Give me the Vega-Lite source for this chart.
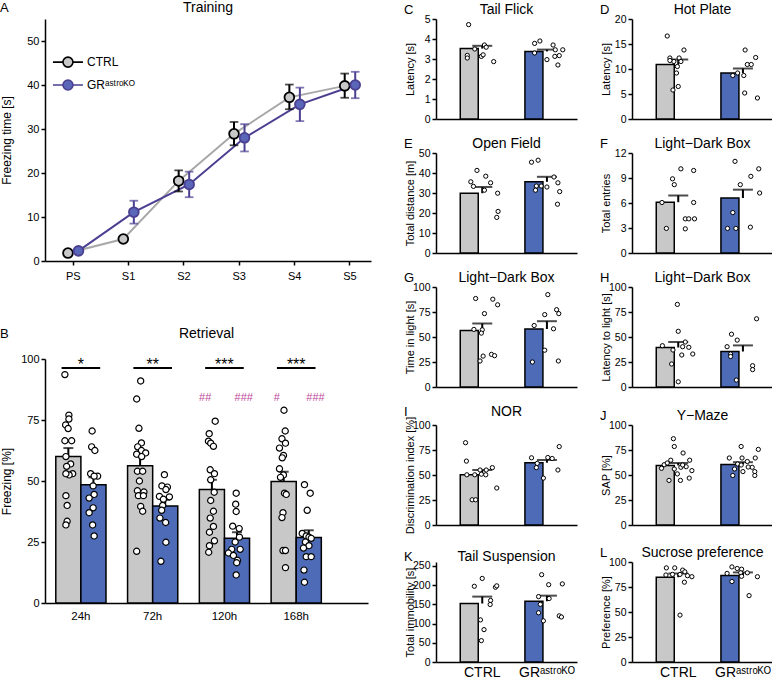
{
"$schema":"https://vega.github.io/schema/vega-lite/v6.json",
"background":"white",
"padding":{"left":0,"top":1,"right":0,"bottom":0},
"config":{
 "font":"Liberation Sans",
 "view":{"stroke":null},
 "axis":{"domainColor":"black","domainWidth":1.5,"tickColor":"black","tickWidth":1.5,"tickSize":4,"labelColor":"black","titleColor":"black","labelFont":"Liberation Sans","titleFont":"Liberation Sans","titleFontWeight":"normal","grid":false,"labelPadding":2},
 "axisY":{"labelFontSize":10.5,"titleFontSize":11,"titleX":-21,"labelOverlap":false,"tickCount":10},
 "title":{"font":"Liberation Sans","fontSize":14,"fontWeight":"normal","color":"black","offset":-3}
},
"datasets":{
 "trainA":[
  {"s":"PS","g":"CTRL","m":1.8,"lo":1.5,"hi":2.1},{"s":"S1","g":"CTRL","m":5.0,"lo":4.7,"hi":5.3},{"s":"S2","g":"CTRL","m":18.2,"lo":15.8,"hi":20.6},{"s":"S3","g":"CTRL","m":28.9,"lo":26.3,"hi":31.6},{"s":"S4","g":"CTRL","m":37.2,"lo":34.5,"hi":40.1},{"s":"S5","g":"CTRL","m":39.8,"lo":37.1,"hi":42.6},
  {"s":"PS","g":"GR","m":2.3,"lo":2.0,"hi":2.6},{"s":"S1","g":"GR","m":11.1,"lo":8.5,"hi":13.7},{"s":"S2","g":"GR","m":17.4,"lo":14.5,"hi":20.3},{"s":"S3","g":"GR","m":28.0,"lo":24.9,"hi":31.1},{"s":"S4","g":"GR","m":35.6,"lo":31.8,"hi":39.4},{"s":"S5","g":"GR","m":40.0,"lo":37.0,"hi":43.0}],
 "legA":[{"s":"PS","g":"CTRL","lab":"CTRL","k":"c"},{"s":"PS","g":"CTRL","lab":"GRᵃˢᵗʳᵒᴷᴼ","k":"g"}],
 "sumB":[{"t":"24h","g":"CTRL","m":60,"e":63.5},{"t":"24h","g":"GR","m":48.5,"e":51.5},{"t":"72h","g":"CTRL","m":56.2,"e":60},{"t":"72h","g":"GR","m":39.8,"e":42.3},{"t":"120h","g":"CTRL","m":46.5,"e":50.5},{"t":"120h","g":"GR","m":26.5,"e":29},{"t":"168h","g":"CTRL","m":49.8,"e":53.8},{"t":"168h","g":"GR","m":26.8,"e":29.8}],
 "sigB":[{"t":"24h","s":"*"},{"t":"72h","s":"**"},{"t":"120h","s":"***"},{"t":"168h","s":"***"}],
 "hashB":[{"t":"120h","g":"CTRL","s":"##"},{"t":"120h","g":"GR","s":"###"},{"t":"168h","g":"CTRL","s":"#"},{"t":"168h","g":"GR","s":"###"}],
 "dotsB":[
  {"t":"24h","g":"CTRL","v":93.6,"j":-0.64},{"t":"24h","g":"CTRL","v":77,"j":-0.48},{"t":"24h","g":"CTRL","v":75.4,"j":-0.48},{"t":"24h","g":"CTRL","v":73,"j":-0.61},{"t":"24h","g":"CTRL","v":71.5,"j":-0.51},{"t":"24h","g":"CTRL","v":66.5,"j":-0.64},{"t":"24h","g":"CTRL","v":66.5,"j":-0.37},{"t":"24h","g":"CTRL","v":60,"j":-0.6},{"t":"24h","g":"CTRL","v":57,"j":-0.41},{"t":"24h","g":"CTRL","v":56,"j":-0.57},{"t":"24h","g":"CTRL","v":53,"j":-0.33},{"t":"24h","g":"CTRL","v":52.5,"j":-0.47},{"t":"24h","g":"CTRL","v":53,"j":-0.6},{"t":"24h","g":"CTRL","v":44,"j":-0.6},{"t":"24h","g":"CTRL","v":40,"j":-0.55},{"t":"24h","g":"CTRL","v":33.5,"j":-0.55},{"t":"24h","g":"CTRL","v":32,"j":-0.6},
  {"t":"24h","g":"GR","v":70.5,"j":0.45},{"t":"24h","g":"GR","v":64,"j":0.43},{"t":"24h","g":"GR","v":62.5,"j":0.56},{"t":"24h","g":"GR","v":53,"j":0.39},{"t":"24h","g":"GR","v":52,"j":0.67},{"t":"24h","g":"GR","v":52,"j":0.53},{"t":"24h","g":"GR","v":48,"j":0.49},{"t":"24h","g":"GR","v":44.5,"j":0.53},{"t":"24h","g":"GR","v":43,"j":0.33},{"t":"24h","g":"GR","v":39,"j":0.49},{"t":"24h","g":"GR","v":37,"j":0.33},{"t":"24h","g":"GR","v":32,"j":0.47},{"t":"24h","g":"GR","v":27.5,"j":0.53},
  {"t":"72h","g":"CTRL","v":91,"j":-0.48},{"t":"72h","g":"CTRL","v":83.6,"j":-0.64},{"t":"72h","g":"CTRL","v":71.6,"j":-0.55},{"t":"72h","g":"CTRL","v":65.6,"j":-0.45},{"t":"72h","g":"CTRL","v":64,"j":-0.6},{"t":"72h","g":"CTRL","v":62.5,"j":-0.45},{"t":"72h","g":"CTRL","v":61.5,"j":-0.28},{"t":"72h","g":"CTRL","v":61,"j":-0.64},{"t":"72h","g":"CTRL","v":60,"j":-0.44},{"t":"72h","g":"CTRL","v":54,"j":-0.61},{"t":"72h","g":"CTRL","v":54,"j":-0.4},{"t":"72h","g":"CTRL","v":50,"j":-0.53},{"t":"72h","g":"CTRL","v":46,"j":-0.61},{"t":"72h","g":"CTRL","v":45.5,"j":-0.35},{"t":"72h","g":"CTRL","v":44,"j":-0.57},{"t":"72h","g":"CTRL","v":44,"j":-0.37},{"t":"72h","g":"CTRL","v":39.6,"j":-0.48},{"t":"72h","g":"CTRL","v":37.6,"j":-0.4},{"t":"72h","g":"CTRL","v":21.2,"j":-0.64},
  {"t":"72h","g":"GR","v":52.6,"j":0.47},{"t":"72h","g":"GR","v":48,"j":0.37},{"t":"72h","g":"GR","v":47.5,"j":0.59},{"t":"72h","g":"GR","v":46.5,"j":0.53},{"t":"72h","g":"GR","v":43.7,"j":0.27},{"t":"72h","g":"GR","v":43.5,"j":0.67},{"t":"72h","g":"GR","v":42.5,"j":0.43},{"t":"72h","g":"GR","v":40,"j":0.4},{"t":"72h","g":"GR","v":38,"j":0.36},{"t":"72h","g":"GR","v":34.8,"j":0.29},{"t":"72h","g":"GR","v":33,"j":0.52},{"t":"72h","g":"GR","v":24.9,"j":0.53},{"t":"72h","g":"GR","v":17.1,"j":0.33},
  {"t":"120h","g":"CTRL","v":74.5,"j":-0.37},{"t":"120h","g":"CTRL","v":69.4,"j":-0.61},{"t":"120h","g":"CTRL","v":66.3,"j":-0.64},{"t":"120h","g":"CTRL","v":65.5,"j":-0.55},{"t":"120h","g":"CTRL","v":64.2,"j":-0.44},{"t":"120h","g":"CTRL","v":54.6,"j":-0.57},{"t":"120h","g":"CTRL","v":53,"j":-0.4},{"t":"120h","g":"CTRL","v":50.5,"j":-0.55},{"t":"120h","g":"CTRL","v":45.4,"j":-0.41},{"t":"120h","g":"CTRL","v":42,"j":-0.55},{"t":"120h","g":"CTRL","v":37.6,"j":-0.44},{"t":"120h","g":"CTRL","v":34.8,"j":-0.57},{"t":"120h","g":"CTRL","v":31.4,"j":-0.44},{"t":"120h","g":"CTRL","v":29,"j":-0.6},{"t":"120h","g":"CTRL","v":25.5,"j":-0.4},{"t":"120h","g":"CTRL","v":23.5,"j":-0.6},{"t":"120h","g":"CTRL","v":20.8,"j":-0.63},
  {"t":"120h","g":"GR","v":45,"j":0.47},{"t":"120h","g":"GR","v":40.5,"j":0.45},{"t":"120h","g":"GR","v":37.5,"j":0.47},{"t":"120h","g":"GR","v":31.5,"j":0.33},{"t":"120h","g":"GR","v":30.5,"j":0.59},{"t":"120h","g":"GR","v":27,"j":0.6},{"t":"120h","g":"GR","v":25,"j":0.43},{"t":"120h","g":"GR","v":22,"j":0.29},{"t":"120h","g":"GR","v":22,"j":0.63},{"t":"120h","g":"GR","v":20.5,"j":0.16},{"t":"120h","g":"GR","v":19.5,"j":0.36},{"t":"120h","g":"GR","v":17.5,"j":0.52},{"t":"120h","g":"GR","v":16.5,"j":0.49},{"t":"120h","g":"GR","v":11.5,"j":0.47},
  {"t":"168h","g":"CTRL","v":79,"j":-0.49},{"t":"168h","g":"CTRL","v":70.5,"j":-0.44},{"t":"168h","g":"CTRL","v":67.3,"j":-0.57},{"t":"168h","g":"CTRL","v":65.5,"j":-0.43},{"t":"168h","g":"CTRL","v":63.5,"j":-0.67},{"t":"168h","g":"CTRL","v":60.5,"j":-0.51},{"t":"168h","g":"CTRL","v":59.5,"j":-0.56},{"t":"168h","g":"CTRL","v":55,"j":-0.67},{"t":"168h","g":"CTRL","v":52.5,"j":-0.51},{"t":"168h","g":"CTRL","v":51.5,"j":-0.63},{"t":"168h","g":"CTRL","v":45,"j":-0.47},{"t":"168h","g":"CTRL","v":44.5,"j":-0.4},{"t":"168h","g":"CTRL","v":37,"j":-0.53},{"t":"168h","g":"CTRL","v":35,"j":-0.57},{"t":"168h","g":"CTRL","v":21.5,"j":-0.53},{"t":"168h","g":"CTRL","v":21.5,"j":-0.43},{"t":"168h","g":"CTRL","v":14.5,"j":-0.43},
  {"t":"168h","g":"GR","v":48.5,"j":0.33},{"t":"168h","g":"GR","v":45,"j":0.56},{"t":"168h","g":"GR","v":38,"j":0.44},{"t":"168h","g":"GR","v":28.5,"j":0.24},{"t":"168h","g":"GR","v":27.5,"j":0.4},{"t":"168h","g":"GR","v":27,"j":0.51},{"t":"168h","g":"GR","v":26.5,"j":0.6},{"t":"168h","g":"GR","v":25,"j":0.37},{"t":"168h","g":"GR","v":23.5,"j":0.51},{"t":"168h","g":"GR","v":22.5,"j":0.29},{"t":"168h","g":"GR","v":19,"j":0.4},{"t":"168h","g":"GR","v":19,"j":0.6},{"t":"168h","g":"GR","v":13.5,"j":0.31},{"t":"168h","g":"GR","v":8.5,"j":0.33}],
 "sum":[
  {"p":"C","g":"CTRL","m":3.52,"e":3.66},{"p":"C","g":"GR","m":3.38,"e":3.47},
  {"p":"D","g":"CTRL","m":10.9,"e":11.9},{"p":"D","g":"GR","m":9.2,"e":10.1},
  {"p":"E","g":"CTRL","m":29.9,"e":33.0},{"p":"E","g":"GR","m":35.6,"e":38.1},
  {"p":"F","g":"CTRL","m":6.1,"e":6.9},{"p":"F","g":"GR","m":6.6,"e":7.6},
  {"p":"G","g":"CTRL","m":56.5,"e":63.5},{"p":"G","g":"GR","m":58.0,"e":65.8},
  {"p":"H","g":"CTRL","m":39.5,"e":45.0},{"p":"H","g":"GR","m":35.5,"e":41.6},
  {"p":"I","g":"CTRL","m":50.2,"e":55.0},{"p":"I","g":"GR","m":62.3,"e":65.0},
  {"p":"J","g":"CTRL","m":59.5,"e":62.0},{"p":"J","g":"GR","m":60.6,"e":62.8},
  {"p":"K","g":"CTRL","m":152,"e":170},{"p":"K","g":"GR","m":158,"e":172.5},
  {"p":"L","g":"CTRL","m":84.8,"e":88.5},{"p":"L","g":"GR","m":86.5,"e":89.6}],
 "pts":[
  {"p":"C","g":"CTRL","v":4.72,"j":-0.31},{"p":"C","g":"CTRL","v":3.5,"j":-0.17},{"p":"C","g":"CTRL","v":3.7,"j":0.05},{"p":"C","g":"CTRL","v":3.59,"j":0.09},{"p":"C","g":"CTRL","v":3.18,"j":-0.34},{"p":"C","g":"CTRL","v":3.05,"j":-0.34},{"p":"C","g":"CTRL","v":3.13,"j":-0.02},{"p":"C","g":"CTRL","v":3.21,"j":0.02},{"p":"C","g":"CTRL","v":2.87,"j":0.26},
  {"p":"C","g":"GR","v":3.78,"j":-0.28},{"p":"C","g":"GR","v":3.9,"j":-0.16},{"p":"C","g":"GR","v":3.3,"j":-0.28},{"p":"C","g":"GR","v":3.7,"j":0.14},{"p":"C","g":"GR","v":3.46,"j":0.19},{"p":"C","g":"GR","v":3.46,"j":0.36},{"p":"C","g":"GR","v":2.97,"j":0},{"p":"C","g":"GR","v":3.13,"j":0.18},{"p":"C","g":"GR","v":3.17,"j":0.28},{"p":"C","g":"GR","v":2.7,"j":0.25},
  {"p":"D","g":"CTRL","v":16.6,"j":-0.25},{"p":"D","g":"CTRL","v":13.8,"j":0.13},{"p":"D","g":"CTRL","v":12.2,"j":-0.19},{"p":"D","g":"CTRL","v":12.2,"j":0.02},{"p":"D","g":"CTRL","v":11.5,"j":-0.1},{"p":"D","g":"CTRL","v":11.5,"j":0.06},{"p":"D","g":"CTRL","v":10.5,"j":-0.02},{"p":"D","g":"CTRL","v":9.2,"j":-0.04},{"p":"D","g":"CTRL","v":6.5,"j":0},{"p":"D","g":"CTRL","v":5.8,"j":-0.12},{"p":"D","g":"CTRL","v":11.7,"j":-0.19},
  {"p":"D","g":"GR","v":13.8,"j":0.05},{"p":"D","g":"GR","v":12.3,"j":0.29},{"p":"D","g":"GR","v":10.9,"j":0.1},{"p":"D","g":"GR","v":10.9,"j":0.19},{"p":"D","g":"GR","v":9.2,"j":-0.12},{"p":"D","g":"GR","v":8.7,"j":-0.23},{"p":"D","g":"GR","v":8.7,"j":0.02},{"p":"D","g":"GR","v":5.2,"j":0.04},{"p":"D","g":"GR","v":4.2,"j":0.33},
  {"p":"E","g":"CTRL","v":41.3,"j":-0.12},{"p":"E","g":"CTRL","v":35.6,"j":-0.26},{"p":"E","g":"CTRL","v":38.4,"j":0.08},{"p":"E","g":"CTRL","v":33.3,"j":-0.2},{"p":"E","g":"CTRL","v":35.1,"j":0.19},{"p":"E","g":"CTRL","v":31.4,"j":0.05},{"p":"E","g":"CTRL","v":29.9,"j":0.35},{"p":"E","g":"CTRL","v":20.8,"j":0.36},{"p":"E","g":"CTRL","v":17.8,"j":0.33},
  {"p":"E","g":"GR","v":45.4,"j":-0.35},{"p":"E","g":"GR","v":46.4,"j":-0.2},{"p":"E","g":"GR","v":38,"j":0.16},{"p":"E","g":"GR","v":33.5,"j":-0.24},{"p":"E","g":"GR","v":33.5,"j":-0.13},{"p":"E","g":"GR","v":33,"j":0},{"p":"E","g":"GR","v":35.1,"j":0.25},{"p":"E","g":"GR","v":30.7,"j":0.29},{"p":"E","g":"GR","v":31.4,"j":-0.26},{"p":"E","g":"GR","v":24.4,"j":0.24},
  {"p":"F","g":"CTRL","v":10.1,"j":0.06},{"p":"F","g":"CTRL","v":9.9,"j":0.35},{"p":"F","g":"CTRL","v":8.9,"j":-0.13},{"p":"F","g":"CTRL","v":8.2,"j":-0.09},{"p":"F","g":"CTRL","v":6.06,"j":-0.37},{"p":"F","g":"CTRL","v":6.06,"j":0.35},{"p":"F","g":"CTRL","v":2.95,"j":-0.27},{"p":"F","g":"CTRL","v":4.1,"j":0.16},{"p":"F","g":"CTRL","v":4.1,"j":0.24},{"p":"F","g":"CTRL","v":4.1,"j":0.37},{"p":"F","g":"CTRL","v":2.9,"j":0.16},
  {"p":"F","g":"GR","v":11,"j":-0.18},{"p":"F","g":"GR","v":10.1,"j":0.36},{"p":"F","g":"GR","v":9.2,"j":0.18},{"p":"F","g":"GR","v":8.2,"j":-0.06},{"p":"F","g":"GR","v":7.2,"j":0.38},{"p":"F","g":"GR","v":4.85,"j":-0.23},{"p":"F","g":"GR","v":2.95,"j":-0.35},{"p":"F","g":"GR","v":2.95,"j":-0.16},{"p":"F","g":"GR","v":3.1,"j":0.17},
  {"p":"G","g":"CTRL","v":88.5,"j":-0.15},{"p":"G","g":"CTRL","v":87.8,"j":0.24},{"p":"G","g":"CTRL","v":82.2,"j":0.35},{"p":"G","g":"CTRL","v":73.4,"j":0.05},{"p":"G","g":"CTRL","v":57.6,"j":-0.19},{"p":"G","g":"CTRL","v":57.2,"j":0},{"p":"G","g":"CTRL","v":53.9,"j":-0.02},{"p":"G","g":"CTRL","v":32.6,"j":0.21},{"p":"G","g":"CTRL","v":31.3,"j":0.28},{"p":"G","g":"CTRL","v":30.9,"j":0.02},{"p":"G","g":"CTRL","v":26,"j":-0.05},
  {"p":"G","g":"GR","v":92.4,"j":0.02},{"p":"G","g":"GR","v":77.3,"j":0.22},{"p":"G","g":"GR","v":73.4,"j":0.27},{"p":"G","g":"GR","v":72.4,"j":-0.05},{"p":"G","g":"GR","v":61.5,"j":-0.29},{"p":"G","g":"GR","v":58.2,"j":0.15},{"p":"G","g":"GR","v":36.8,"j":-0.05},{"p":"G","g":"GR","v":25,"j":-0.33},{"p":"G","g":"GR","v":26,"j":0.26},
  {"p":"H","g":"CTRL","v":82.6,"j":-0.02},{"p":"H","g":"CTRL","v":55.7,"j":0},{"p":"H","g":"CTRL","v":45,"j":0.16},{"p":"H","g":"CTRL","v":41.3,"j":-0.36},{"p":"H","g":"CTRL","v":40.3,"j":0.1},{"p":"H","g":"CTRL","v":37,"j":-0.12},{"p":"H","g":"CTRL","v":39.7,"j":0.24},{"p":"H","g":"CTRL","v":33,"j":0.33},{"p":"H","g":"CTRL","v":32,"j":0.08},{"p":"H","g":"CTRL","v":23,"j":-0.15},{"p":"H","g":"CTRL","v":5.2,"j":0},
  {"p":"H","g":"GR","v":68.2,"j":0.31},{"p":"H","g":"GR","v":52.8,"j":-0.26},{"p":"H","g":"GR","v":46.9,"j":-0.13},{"p":"H","g":"GR","v":40.3,"j":-0.36},{"p":"H","g":"GR","v":33,"j":-0.28},{"p":"H","g":"GR","v":30.5,"j":-0.28},{"p":"H","g":"GR","v":21.3,"j":0.22},{"p":"H","g":"GR","v":17.4,"j":0.22},{"p":"H","g":"GR","v":6.9,"j":-0.15},
  {"p":"I","g":"CTRL","v":82.3,"j":-0.38},{"p":"I","g":"CTRL","v":63.9,"j":-0.36},{"p":"I","g":"CTRL","v":55,"j":-0.05},{"p":"I","g":"CTRL","v":55,"j":0.09},{"p":"I","g":"CTRL","v":57.4,"j":0.23},{"p":"I","g":"CTRL","v":50.2,"j":-0.35},{"p":"I","g":"CTRL","v":50.2,"j":-0.17},{"p":"I","g":"CTRL","v":50.8,"j":-0.02},{"p":"I","g":"CTRL","v":50.2,"j":0.08},{"p":"I","g":"CTRL","v":37,"j":0.33},{"p":"I","g":"CTRL","v":25.2,"j":-0.23},{"p":"I","g":"CTRL","v":25.2,"j":-0.15},
  {"p":"I","g":"GR","v":78.4,"j":0.28},{"p":"I","g":"GR","v":67.2,"j":-0.35},{"p":"I","g":"GR","v":67.5,"j":0.02},{"p":"I","g":"GR","v":66.5,"j":0.12},{"p":"I","g":"GR","v":61.6,"j":-0.22},{"p":"I","g":"GR","v":57.4,"j":-0.24},{"p":"I","g":"GR","v":55,"j":0.25},{"p":"I","g":"GR","v":46.9,"j":-0.08},
  {"p":"J","g":"CTRL","v":86.3,"j":-0.11},{"p":"J","g":"CTRL","v":78.5,"j":-0.09},{"p":"J","g":"CTRL","v":72,"j":0.11},{"p":"J","g":"CTRL","v":64.8,"j":-0.17},{"p":"J","g":"CTRL","v":64.8,"j":0.26},{"p":"J","g":"CTRL","v":60.3,"j":-0.32},{"p":"J","g":"CTRL","v":56,"j":-0.09},{"p":"J","g":"CTRL","v":57.7,"j":0.06},{"p":"J","g":"CTRL","v":58.3,"j":0.18},{"p":"J","g":"CTRL","v":54.4,"j":0.31},{"p":"J","g":"CTRL","v":56.7,"j":-0.38},{"p":"J","g":"CTRL","v":51.1,"j":-0.02},{"p":"J","g":"CTRL","v":46.9,"j":0.25},{"p":"J","g":"CTRL","v":44.6,"j":-0.21},{"p":"J","g":"CTRL","v":44.6,"j":0.05},{"p":"J","g":"CTRL","v":60,"j":0.1},{"p":"J","g":"CTRL","v":62,"j":-0.25},
  {"p":"J","g":"GR","v":78.5,"j":-0.04},{"p":"J","g":"GR","v":75.6,"j":0.35},{"p":"J","g":"GR","v":67,"j":-0.31},{"p":"J","g":"GR","v":67,"j":-0.02},{"p":"J","g":"GR","v":67,"j":0.28},{"p":"J","g":"GR","v":63.5,"j":0.1},{"p":"J","g":"GR","v":61,"j":-0.12},{"p":"J","g":"GR","v":57.7,"j":0.21},{"p":"J","g":"GR","v":56,"j":-0.19},{"p":"J","g":"GR","v":53.4,"j":0},{"p":"J","g":"GR","v":53.4,"j":0.27},{"p":"J","g":"GR","v":49.5,"j":-0.23},{"p":"J","g":"GR","v":49.5,"j":0.27},{"p":"J","g":"GR","v":60,"j":-0.04},{"p":"J","g":"GR","v":58,"j":0.12},
  {"p":"K","g":"CTRL","v":217.3,"j":0},{"p":"K","g":"CTRL","v":196.9,"j":-0.18},{"p":"K","g":"CTRL","v":194.4,"j":0.3},{"p":"K","g":"CTRL","v":198,"j":0.33},{"p":"K","g":"CTRL","v":160,"j":0.19},{"p":"K","g":"CTRL","v":149.5,"j":0.18},{"p":"K","g":"CTRL","v":109.5,"j":-0.04},{"p":"K","g":"CTRL","v":84.2,"j":0.04},{"p":"K","g":"CTRL","v":55.6,"j":-0.02},
  {"p":"K","g":"GR","v":227,"j":-0.12},{"p":"K","g":"GR","v":201,"j":0.04},{"p":"K","g":"GR","v":203,"j":0.35},{"p":"K","g":"GR","v":170,"j":-0.19},{"p":"K","g":"GR","v":165,"j":0.05},{"p":"K","g":"GR","v":150,"j":-0.15},{"p":"K","g":"GR","v":128,"j":-0.19},{"p":"K","g":"GR","v":120,"j":0.28},{"p":"K","g":"GR","v":117,"j":0.33},{"p":"K","g":"GR","v":107,"j":-0.08},
  {"p":"L","g":"CTRL","v":94.1,"j":-0.27},{"p":"L","g":"CTRL","v":94.1,"j":-0.08},{"p":"L","g":"CTRL","v":91.9,"j":0.1},{"p":"L","g":"CTRL","v":90.2,"j":0.15},{"p":"L","g":"CTRL","v":87,"j":-0.28},{"p":"L","g":"CTRL","v":87.6,"j":-0.13},{"p":"L","g":"CTRL","v":87.6,"j":0.04},{"p":"L","g":"CTRL","v":86.3,"j":0.21},{"p":"L","g":"CTRL","v":85.3,"j":0.31},{"p":"L","g":"CTRL","v":79.8,"j":0.14},{"p":"L","g":"CTRL","v":46.9,"j":0.04},
  {"p":"L","g":"GR","v":95.1,"j":-0.25},{"p":"L","g":"GR","v":93.5,"j":-0.13},{"p":"L","g":"GR","v":92.8,"j":-0.03},{"p":"L","g":"GR","v":89.2,"j":-0.05},{"p":"L","g":"GR","v":89.2,"j":0.1},{"p":"L","g":"GR","v":88.6,"j":-0.36},{"p":"L","g":"GR","v":85.7,"j":-0.03},{"p":"L","g":"GR","v":85.3,"j":0.33},{"p":"L","g":"GR","v":80.5,"j":-0.25},{"p":"L","g":"GR","v":66.4,"j":0.14}]
},
"spacing":32,
"resolve":{"scale":{"color":"independent"}},
"hconcat":[
 {"spacing":46,
  "resolve":{"scale":{"color":"independent"}},
  "vconcat":[
  {"title":{"text":"A","anchor":"start","frame":"bounds","offset":-14,"fontSize":13},
   "vconcat":[{"width":326,"height":242,"title":{"text":"Training","offset":4},
    "layer":[
     {"data":{"name":"trainA"},"mark":{"type":"line","strokeWidth":2},"encoding":{
       "x":{"field":"s","type":"nominal","scale":{"domain":["PS","S1","S2","S3","S4","S5"],"paddingInner":0.24,"paddingOuter":0.065,"align":1},"axis":{"title":null,"labelAngle":0,"labelFontSize":11,"labelPadding":5,"tickSize":4}},
       "xOffset":{"field":"g","type":"nominal","scale":{"domain":["CTRL","GR"],"paddingInner":0,"paddingOuter":1.6}},
       "y":{"field":"m","type":"quantitative","scale":{"domain":[0,55]},"axis":{"title":"Freezing time [s]","values":[0,10,20,30,40,50],"labelFontSize":11,"titleFontSize":12,"titleX":-32,"format":"d"}},
       "color":{"field":"g","type":"nominal","scale":{"domain":["CTRL","GR"],"range":["#a8a8a8","#4a3f91"]},"legend":null}}},
     {"data":{"name":"trainA"},"mark":{"type":"rule","strokeWidth":2},"encoding":{"x":{"field":"s","type":"nominal"},"xOffset":{"field":"g","type":"nominal"},"y":{"field":"lo","type":"quantitative"},"y2":{"field":"hi"},"stroke":{"condition":{"test":"datum.g == 'CTRL'","value":"black"},"value":"#4a3f91"}}},
     {"data":{"name":"trainA"},"mark":{"type":"tick","filled":false,"thickness":0.2,"size":7,"strokeWidth":1.6},"encoding":{"x":{"field":"s","type":"nominal"},"xOffset":{"field":"g","type":"nominal"},"y":{"field":"lo","type":"quantitative"},"stroke":{"condition":{"test":"datum.g == 'CTRL'","value":"black"},"value":"#4a3f91"}}},
     {"data":{"name":"trainA"},"mark":{"type":"tick","filled":false,"thickness":0.2,"size":7,"strokeWidth":1.6},"encoding":{"x":{"field":"s","type":"nominal"},"xOffset":{"field":"g","type":"nominal"},"y":{"field":"hi","type":"quantitative"},"stroke":{"condition":{"test":"datum.g == 'CTRL'","value":"black"},"value":"#4a3f91"}}},
     {"data":{"name":"trainA"},"mark":{"type":"point","shape":"circle","filled":true,"size":95,"strokeWidth":1.8,"opacity":1},
      "encoding":{"x":{"field":"s","type":"nominal"},"xOffset":{"field":"g","type":"nominal"},"y":{"field":"m","type":"quantitative"},
       "fill":{"condition":{"test":"datum.g == 'CTRL'","value":"#c8c8c8"},"value":"#5a66b8"},
       "stroke":{"condition":{"test":"datum.g == 'CTRL'","value":"black"},"value":"#4a3f91"}}},
     {"data":{"name":"legA"},"transform":[{"filter":"datum.k == 'c'"}],"mark":{"type":"point","shape":"M-3,0H-1M1,0H3M-1,0A1,1,0,1,0,1,0A1,1,0,1,0,-1,0Z","size":100,"filled":true,"fill":"#c8c8c8","stroke":"black","strokeWidth":1.6,"opacity":1},
      "encoding":{"x":{"field":"s","type":"nominal"},"xOffset":{"field":"g","type":"nominal"},"y":{"datum":45.2}}},
     {"data":{"name":"legA"},"transform":[{"filter":"datum.k == 'g'"}],"mark":{"type":"point","shape":"M-3,0H-1M1,0H3M-1,0A1,1,0,1,0,1,0A1,1,0,1,0,-1,0Z","size":100,"filled":true,"fill":"#5a66b8","stroke":"#4a3f91","strokeWidth":1.6,"opacity":1},
      "encoding":{"x":{"field":"s","type":"nominal"},"xOffset":{"field":"g","type":"nominal"},"y":{"datum":40}}},
     {"data":{"name":"legA"},"transform":[{"filter":"datum.k == 'c'"}],"mark":{"type":"text","align":"left","baseline":"middle","dx":19,"fontSize":12,"color":"black"},
      "encoding":{"x":{"field":"s","type":"nominal"},"xOffset":{"field":"g","type":"nominal"},"y":{"datum":45.2},"text":{"field":"lab"}}},
     {"data":{"name":"legA"},"transform":[{"filter":"datum.k == 'g'"}],"mark":{"type":"text","align":"left","baseline":"middle","dx":19,"fontSize":12,"color":"black"},
      "encoding":{"x":{"field":"s","type":"nominal"},"xOffset":{"field":"g","type":"nominal"},"y":{"datum":40},"text":{"field":"lab"}}}
    ]}]},
  {"title":{"text":"B","anchor":"start","frame":"bounds","offset":-14,"fontSize":13},
   "vconcat":[{"width":323,"height":244,"title":{"text":"Retrieval","offset":12},
    "resolve":{"scale":{"xOffset":"independent"}},
    "layer":[
     {"data":{"name":"sumB"},"mark":{"type":"bar","stroke":"black","strokeWidth":1.5},
      "encoding":{
       "x":{"field":"t","type":"nominal","scale":{"domain":["24h","72h","120h","168h"],"paddingInner":0,"paddingOuter":0.25,"align":0},"axis":{"title":null,"labelAngle":0,"ticks":false,"labelFontSize":11.5,"labelPadding":7}},
       "xOffset":{"field":"g","type":"nominal","scale":{"domain":["CTRL","GR"],"paddingInner":0,"paddingOuter":0.43}},
       "y":{"field":"m","type":"quantitative","scale":{"domain":[0,100]},"axis":{"title":"Freezing [%]","values":[0,25,50,75,100],"labelFontSize":11,"titleFontSize":12,"titleX":-32,"format":"d"}},
       "color":{"field":"g","type":"nominal","scale":{"domain":["CTRL","GR"],"range":["#c8c8c8","#4d6bb7"]},"legend":null}}},
     {"data":{"name":"sumB"},"mark":{"type":"rule","color":"black","strokeWidth":2},
      "encoding":{"x":{"field":"t","type":"nominal"},"xOffset":{"field":"g","type":"nominal","scale":{"domain":["CTRL","GR"],"paddingInner":0,"paddingOuter":0.43}},"y":{"field":"m","type":"quantitative"},"y2":{"field":"e"}}},
     {"data":{"name":"sumB"},"mark":{"type":"tick","color":"black","size":10,"thickness":2},
      "encoding":{"x":{"field":"t","type":"nominal"},"xOffset":{"field":"g","type":"nominal","scale":{"domain":["CTRL","GR"],"paddingInner":0,"paddingOuter":0.43}},"y":{"field":"e","type":"quantitative"}}},
     {"data":{"name":"dotsB"},"mark":{"type":"point","shape":"circle","filled":true,"fill":"white","stroke":"black","strokeWidth":1.2,"size":38,"opacity":1},
      "encoding":{"x":{"field":"t","type":"nominal"},"xOffset":{"field":"j","type":"quantitative","scale":{"domain":[-1.436,1.436]}},"y":{"field":"v","type":"quantitative"}}},
     {"data":{"name":"sumB"},"mark":{"type":"line","color":"black","strokeWidth":2},
      "encoding":{"x":{"field":"t","type":"nominal"},"xOffset":{"field":"g","type":"nominal","scale":{"domain":["CTRL","GR"],"paddingInner":0,"paddingOuter":0.43}},"y":{"datum":96.3},"detail":{"field":"t","type":"nominal"}}},
     {"data":{"name":"sigB"},"mark":{"type":"text","fontSize":16,"color":"black","baseline":"alphabetic"},
      "encoding":{"x":{"field":"t","type":"nominal"},"y":{"datum":95.6},"text":{"field":"s"}}},
     {"data":{"name":"hashB"},"mark":{"type":"text","fontSize":11,"color":"#c0479b","baseline":"alphabetic"},
      "encoding":{"x":{"field":"t","type":"nominal"},"xOffset":{"field":"g","type":"nominal","scale":{"domain":["CTRL","GR"],"paddingInner":0,"paddingOuter":0.43}},"y":{"datum":82.8},"text":{"field":"s"}}}
    ]}]}
 ]},
 {"columns":2,"align":"each","spacing":{"row":12,"column":22},"concat":[
  {"title":{"text":"C","anchor":"start","frame":"bounds","offset":-14,"fontSize":13},"vconcat":[{"width":141,"height":100,"title":{"text":"Tail Flick"},"layer":[
   {"data":{"name":"sum"},"transform":[{"filter":"datum.p=='C'"}],"mark":{"type":"bar","stroke":"black","strokeWidth":1.5},"encoding":{"x":{"field":"g","type":"nominal","scale":{"domain":["CTRL","GR"],"paddingInner":0.32,"paddingOuter":0.25,"align":0.75},"axis":{"title":null,"labels":false,"ticks":false}},"y":{"field":"m","type":"quantitative","scale":{"domain":[0,5]},"axis":{"title":"Latency [s]","values":[0,1,2,3,4,5],"tickCount":10,"format":"d"}},"color":{"field":"g","type":"nominal","scale":{"domain":["CTRL","GR"],"range":["#c8c8c8","#4d6bb7"]},"legend":null}}},
   {"data":{"name":"sum"},"transform":[{"filter":"datum.p=='C'"}],"mark":{"type":"rule","color":"black","strokeWidth":2},"encoding":{"x":{"field":"g","type":"nominal"},"y":{"field":"m","type":"quantitative"},"y2":{"field":"e"}}},
   {"data":{"name":"sum"},"transform":[{"filter":"datum.p=='C'"}],"mark":{"type":"tick","color":"black","size":20,"thickness":2},"encoding":{"x":{"field":"g","type":"nominal"},"y":{"field":"e","type":"quantitative"}}},
   {"data":{"name":"pts"},"transform":[{"filter":"datum.p=='C'"}],"mark":{"type":"point","shape":"circle","filled":true,"fill":"white","stroke":"black","strokeWidth":1,"size":18,"opacity":1},"encoding":{"x":{"field":"g","type":"nominal"},"xOffset":{"field":"j","type":"quantitative","scale":{"domain":[-0.5,0.5]}},"y":{"field":"v","type":"quantitative"}}}]}]},
  {"title":{"text":"D","anchor":"start","frame":"bounds","offset":-14,"fontSize":13},"vconcat":[{"width":141,"height":100,"title":{"text":"Hot Plate"},"layer":[
   {"data":{"name":"sum"},"transform":[{"filter":"datum.p=='D'"}],"mark":{"type":"bar","stroke":"black","strokeWidth":1.5},"encoding":{"x":{"field":"g","type":"nominal","scale":{"domain":["CTRL","GR"],"paddingInner":0.32,"paddingOuter":0.25,"align":0.75},"axis":{"title":null,"labels":false,"ticks":false}},"y":{"field":"m","type":"quantitative","scale":{"domain":[0,20]},"axis":{"title":"Latency [s]","values":[0,5,10,15,20],"tickCount":10,"format":"d"}},"color":{"field":"g","type":"nominal","scale":{"domain":["CTRL","GR"],"range":["#c8c8c8","#4d6bb7"]},"legend":null}}},
   {"data":{"name":"sum"},"transform":[{"filter":"datum.p=='D'"}],"mark":{"type":"rule","color":"black","strokeWidth":2},"encoding":{"x":{"field":"g","type":"nominal"},"y":{"field":"m","type":"quantitative"},"y2":{"field":"e"}}},
   {"data":{"name":"sum"},"transform":[{"filter":"datum.p=='D'"}],"mark":{"type":"tick","color":"black","size":20,"thickness":2},"encoding":{"x":{"field":"g","type":"nominal"},"y":{"field":"e","type":"quantitative"}}},
   {"data":{"name":"pts"},"transform":[{"filter":"datum.p=='D'"}],"mark":{"type":"point","shape":"circle","filled":true,"fill":"white","stroke":"black","strokeWidth":1,"size":18,"opacity":1},"encoding":{"x":{"field":"g","type":"nominal"},"xOffset":{"field":"j","type":"quantitative","scale":{"domain":[-0.5,0.5]}},"y":{"field":"v","type":"quantitative"}}}]}]},
  {"title":{"text":"E","anchor":"start","frame":"bounds","offset":-14,"fontSize":13},"vconcat":[{"width":141,"height":100,"title":{"text":"Open Field"},"layer":[
   {"data":{"name":"sum"},"transform":[{"filter":"datum.p=='E'"}],"mark":{"type":"bar","stroke":"black","strokeWidth":1.5},"encoding":{"x":{"field":"g","type":"nominal","scale":{"domain":["CTRL","GR"],"paddingInner":0.32,"paddingOuter":0.25,"align":0.75},"axis":{"title":null,"labels":false,"ticks":false}},"y":{"field":"m","type":"quantitative","scale":{"domain":[0,50]},"axis":{"title":"Total distance [m]","values":[0,10,20,30,40,50],"tickCount":10,"format":"d"}},"color":{"field":"g","type":"nominal","scale":{"domain":["CTRL","GR"],"range":["#c8c8c8","#4d6bb7"]},"legend":null}}},
   {"data":{"name":"sum"},"transform":[{"filter":"datum.p=='E'"}],"mark":{"type":"rule","color":"black","strokeWidth":2},"encoding":{"x":{"field":"g","type":"nominal"},"y":{"field":"m","type":"quantitative"},"y2":{"field":"e"}}},
   {"data":{"name":"sum"},"transform":[{"filter":"datum.p=='E'"}],"mark":{"type":"tick","color":"black","size":20,"thickness":2},"encoding":{"x":{"field":"g","type":"nominal"},"y":{"field":"e","type":"quantitative"}}},
   {"data":{"name":"pts"},"transform":[{"filter":"datum.p=='E'"}],"mark":{"type":"point","shape":"circle","filled":true,"fill":"white","stroke":"black","strokeWidth":1,"size":18,"opacity":1},"encoding":{"x":{"field":"g","type":"nominal"},"xOffset":{"field":"j","type":"quantitative","scale":{"domain":[-0.5,0.5]}},"y":{"field":"v","type":"quantitative"}}}]}]},
  {"title":{"text":"F","anchor":"start","frame":"bounds","offset":-14,"fontSize":13},"vconcat":[{"width":141,"height":100,"title":{"text":"Light−Dark Box"},"layer":[
   {"data":{"name":"sum"},"transform":[{"filter":"datum.p=='F'"}],"mark":{"type":"bar","stroke":"black","strokeWidth":1.5},"encoding":{"x":{"field":"g","type":"nominal","scale":{"domain":["CTRL","GR"],"paddingInner":0.32,"paddingOuter":0.25,"align":0.75},"axis":{"title":null,"labels":false,"ticks":false}},"y":{"field":"m","type":"quantitative","scale":{"domain":[0,12]},"axis":{"title":"Total entries","values":[0,3,6,9,12],"tickCount":10,"format":"d"}},"color":{"field":"g","type":"nominal","scale":{"domain":["CTRL","GR"],"range":["#c8c8c8","#4d6bb7"]},"legend":null}}},
   {"data":{"name":"sum"},"transform":[{"filter":"datum.p=='F'"}],"mark":{"type":"rule","color":"black","strokeWidth":2},"encoding":{"x":{"field":"g","type":"nominal"},"y":{"field":"m","type":"quantitative"},"y2":{"field":"e"}}},
   {"data":{"name":"sum"},"transform":[{"filter":"datum.p=='F'"}],"mark":{"type":"tick","color":"black","size":20,"thickness":2},"encoding":{"x":{"field":"g","type":"nominal"},"y":{"field":"e","type":"quantitative"}}},
   {"data":{"name":"pts"},"transform":[{"filter":"datum.p=='F'"}],"mark":{"type":"point","shape":"circle","filled":true,"fill":"white","stroke":"black","strokeWidth":1,"size":18,"opacity":1},"encoding":{"x":{"field":"g","type":"nominal"},"xOffset":{"field":"j","type":"quantitative","scale":{"domain":[-0.5,0.5]}},"y":{"field":"v","type":"quantitative"}}}]}]},
  {"title":{"text":"G","anchor":"start","frame":"bounds","offset":-14,"fontSize":13},"vconcat":[{"width":141,"height":100,"title":{"text":"Light−Dark Box"},"layer":[
   {"data":{"name":"sum"},"transform":[{"filter":"datum.p=='G'"}],"mark":{"type":"bar","stroke":"black","strokeWidth":1.5},"encoding":{"x":{"field":"g","type":"nominal","scale":{"domain":["CTRL","GR"],"paddingInner":0.32,"paddingOuter":0.25,"align":0.75},"axis":{"title":null,"labels":false,"ticks":false}},"y":{"field":"m","type":"quantitative","scale":{"domain":[0,100]},"axis":{"title":"Time in light [s]","values":[0,25,50,75,100],"tickCount":10,"format":"d"}},"color":{"field":"g","type":"nominal","scale":{"domain":["CTRL","GR"],"range":["#c8c8c8","#4d6bb7"]},"legend":null}}},
   {"data":{"name":"sum"},"transform":[{"filter":"datum.p=='G'"}],"mark":{"type":"rule","color":"black","strokeWidth":2},"encoding":{"x":{"field":"g","type":"nominal"},"y":{"field":"m","type":"quantitative"},"y2":{"field":"e"}}},
   {"data":{"name":"sum"},"transform":[{"filter":"datum.p=='G'"}],"mark":{"type":"tick","color":"black","size":20,"thickness":2},"encoding":{"x":{"field":"g","type":"nominal"},"y":{"field":"e","type":"quantitative"}}},
   {"data":{"name":"pts"},"transform":[{"filter":"datum.p=='G'"}],"mark":{"type":"point","shape":"circle","filled":true,"fill":"white","stroke":"black","strokeWidth":1,"size":18,"opacity":1},"encoding":{"x":{"field":"g","type":"nominal"},"xOffset":{"field":"j","type":"quantitative","scale":{"domain":[-0.5,0.5]}},"y":{"field":"v","type":"quantitative"}}}]}]},
  {"title":{"text":"H","anchor":"start","frame":"bounds","offset":-14,"fontSize":13},"vconcat":[{"width":141,"height":100,"title":{"text":"Light−Dark Box"},"layer":[
   {"data":{"name":"sum"},"transform":[{"filter":"datum.p=='H'"}],"mark":{"type":"bar","stroke":"black","strokeWidth":1.5},"encoding":{"x":{"field":"g","type":"nominal","scale":{"domain":["CTRL","GR"],"paddingInner":0.32,"paddingOuter":0.25,"align":0.75},"axis":{"title":null,"labels":false,"ticks":false}},"y":{"field":"m","type":"quantitative","scale":{"domain":[0,100]},"axis":{"title":"Latency to light [s]","values":[0,25,50,75,100],"tickCount":10,"format":"d"}},"color":{"field":"g","type":"nominal","scale":{"domain":["CTRL","GR"],"range":["#c8c8c8","#4d6bb7"]},"legend":null}}},
   {"data":{"name":"sum"},"transform":[{"filter":"datum.p=='H'"}],"mark":{"type":"rule","color":"black","strokeWidth":2},"encoding":{"x":{"field":"g","type":"nominal"},"y":{"field":"m","type":"quantitative"},"y2":{"field":"e"}}},
   {"data":{"name":"sum"},"transform":[{"filter":"datum.p=='H'"}],"mark":{"type":"tick","color":"black","size":20,"thickness":2},"encoding":{"x":{"field":"g","type":"nominal"},"y":{"field":"e","type":"quantitative"}}},
   {"data":{"name":"pts"},"transform":[{"filter":"datum.p=='H'"}],"mark":{"type":"point","shape":"circle","filled":true,"fill":"white","stroke":"black","strokeWidth":1,"size":18,"opacity":1},"encoding":{"x":{"field":"g","type":"nominal"},"xOffset":{"field":"j","type":"quantitative","scale":{"domain":[-0.5,0.5]}},"y":{"field":"v","type":"quantitative"}}}]}]},
  {"title":{"text":"I","anchor":"start","frame":"bounds","offset":-14,"fontSize":13},"vconcat":[{"width":141,"height":100,"title":{"text":"NOR"},"layer":[
   {"data":{"name":"sum"},"transform":[{"filter":"datum.p=='I'"}],"mark":{"type":"bar","stroke":"black","strokeWidth":1.5},"encoding":{"x":{"field":"g","type":"nominal","scale":{"domain":["CTRL","GR"],"paddingInner":0.32,"paddingOuter":0.25,"align":0.75},"axis":{"title":null,"labels":false,"ticks":false}},"y":{"field":"m","type":"quantitative","scale":{"domain":[0,100]},"axis":{"title":"Discrimination index [%]","values":[0,25,50,75,100],"tickCount":10,"format":"d"}},"color":{"field":"g","type":"nominal","scale":{"domain":["CTRL","GR"],"range":["#c8c8c8","#4d6bb7"]},"legend":null}}},
   {"data":{"name":"sum"},"transform":[{"filter":"datum.p=='I'"}],"mark":{"type":"rule","color":"black","strokeWidth":2},"encoding":{"x":{"field":"g","type":"nominal"},"y":{"field":"m","type":"quantitative"},"y2":{"field":"e"}}},
   {"data":{"name":"sum"},"transform":[{"filter":"datum.p=='I'"}],"mark":{"type":"tick","color":"black","size":20,"thickness":2},"encoding":{"x":{"field":"g","type":"nominal"},"y":{"field":"e","type":"quantitative"}}},
   {"data":{"name":"pts"},"transform":[{"filter":"datum.p=='I'"}],"mark":{"type":"point","shape":"circle","filled":true,"fill":"white","stroke":"black","strokeWidth":1,"size":18,"opacity":1},"encoding":{"x":{"field":"g","type":"nominal"},"xOffset":{"field":"j","type":"quantitative","scale":{"domain":[-0.5,0.5]}},"y":{"field":"v","type":"quantitative"}}}]}]},
  {"title":{"text":"J","anchor":"start","frame":"bounds","offset":-14,"fontSize":13},"vconcat":[{"width":141,"height":100,"title":{"text":"Y−Maze"},"layer":[
   {"data":{"name":"sum"},"transform":[{"filter":"datum.p=='J'"}],"mark":{"type":"bar","stroke":"black","strokeWidth":1.5},"encoding":{"x":{"field":"g","type":"nominal","scale":{"domain":["CTRL","GR"],"paddingInner":0.32,"paddingOuter":0.25,"align":0.75},"axis":{"title":null,"labels":false,"ticks":false}},"y":{"field":"m","type":"quantitative","scale":{"domain":[0,100]},"axis":{"title":"SAP [%]","values":[0,25,50,75,100],"tickCount":10,"format":"d"}},"color":{"field":"g","type":"nominal","scale":{"domain":["CTRL","GR"],"range":["#c8c8c8","#4d6bb7"]},"legend":null}}},
   {"data":{"name":"sum"},"transform":[{"filter":"datum.p=='J'"}],"mark":{"type":"rule","color":"black","strokeWidth":2},"encoding":{"x":{"field":"g","type":"nominal"},"y":{"field":"m","type":"quantitative"},"y2":{"field":"e"}}},
   {"data":{"name":"sum"},"transform":[{"filter":"datum.p=='J'"}],"mark":{"type":"tick","color":"black","size":20,"thickness":2},"encoding":{"x":{"field":"g","type":"nominal"},"y":{"field":"e","type":"quantitative"}}},
   {"data":{"name":"pts"},"transform":[{"filter":"datum.p=='J'"}],"mark":{"type":"point","shape":"circle","filled":true,"fill":"white","stroke":"black","strokeWidth":1,"size":18,"opacity":1},"encoding":{"x":{"field":"g","type":"nominal"},"xOffset":{"field":"j","type":"quantitative","scale":{"domain":[-0.5,0.5]}},"y":{"field":"v","type":"quantitative"}}}]}]},
  {"title":{"text":"K","anchor":"start","frame":"bounds","offset":-14,"fontSize":13},"vconcat":[{"width":141,"height":100,"title":{"text":"Tail Suspension"},"layer":[
   {"data":{"name":"sum"},"transform":[{"filter":"datum.p=='K'"}],"mark":{"type":"bar","stroke":"black","strokeWidth":1.5},"encoding":{"x":{"field":"g","type":"nominal","scale":{"domain":["CTRL","GR"],"paddingInner":0.32,"paddingOuter":0.25,"align":0.75},"axis":{"title":null,"ticks":false,"labelAngle":0,"labelFontSize":14,"labelPadding":3,"labelExpr":"datum.value == 'GR' ? 'GRᵃˢᵗʳᵒᴷᴼ' : datum.value"}},"y":{"field":"m","type":"quantitative","scale":{"domain":[0,250]},"axis":{"title":"Total immobility [s]","values":[0,50,100,150,200,250],"tickCount":10,"format":"d"}},"color":{"field":"g","type":"nominal","scale":{"domain":["CTRL","GR"],"range":["#c8c8c8","#4d6bb7"]},"legend":null}}},
   {"data":{"name":"sum"},"transform":[{"filter":"datum.p=='K'"}],"mark":{"type":"rule","color":"black","strokeWidth":2},"encoding":{"x":{"field":"g","type":"nominal"},"y":{"field":"m","type":"quantitative"},"y2":{"field":"e"}}},
   {"data":{"name":"sum"},"transform":[{"filter":"datum.p=='K'"}],"mark":{"type":"tick","color":"black","size":20,"thickness":2},"encoding":{"x":{"field":"g","type":"nominal"},"y":{"field":"e","type":"quantitative"}}},
   {"data":{"name":"pts"},"transform":[{"filter":"datum.p=='K'"}],"mark":{"type":"point","shape":"circle","filled":true,"fill":"white","stroke":"black","strokeWidth":1,"size":18,"opacity":1},"encoding":{"x":{"field":"g","type":"nominal"},"xOffset":{"field":"j","type":"quantitative","scale":{"domain":[-0.5,0.5]}},"y":{"field":"v","type":"quantitative"}}}]}]},
  {"title":{"text":"L","anchor":"start","frame":"bounds","offset":-14,"fontSize":13},"vconcat":[{"width":141,"height":100,"title":{"text":"Sucrose preference"},"layer":[
   {"data":{"name":"sum"},"transform":[{"filter":"datum.p=='L'"}],"mark":{"type":"bar","stroke":"black","strokeWidth":1.5},"encoding":{"x":{"field":"g","type":"nominal","scale":{"domain":["CTRL","GR"],"paddingInner":0.32,"paddingOuter":0.25,"align":0.75},"axis":{"title":null,"ticks":false,"labelAngle":0,"labelFontSize":14,"labelPadding":3,"labelExpr":"datum.value == 'GR' ? 'GRᵃˢᵗʳᵒᴷᴼ' : datum.value"}},"y":{"field":"m","type":"quantitative","scale":{"domain":[0,100]},"axis":{"title":"Preference [%]","values":[0,25,50,75,100],"tickCount":10,"format":"d"}},"color":{"field":"g","type":"nominal","scale":{"domain":["CTRL","GR"],"range":["#c8c8c8","#4d6bb7"]},"legend":null}}},
   {"data":{"name":"sum"},"transform":[{"filter":"datum.p=='L'"}],"mark":{"type":"rule","color":"black","strokeWidth":2},"encoding":{"x":{"field":"g","type":"nominal"},"y":{"field":"m","type":"quantitative"},"y2":{"field":"e"}}},
   {"data":{"name":"sum"},"transform":[{"filter":"datum.p=='L'"}],"mark":{"type":"tick","color":"black","size":20,"thickness":2},"encoding":{"x":{"field":"g","type":"nominal"},"y":{"field":"e","type":"quantitative"}}},
   {"data":{"name":"pts"},"transform":[{"filter":"datum.p=='L'"}],"mark":{"type":"point","shape":"circle","filled":true,"fill":"white","stroke":"black","strokeWidth":1,"size":18,"opacity":1},"encoding":{"x":{"field":"g","type":"nominal"},"xOffset":{"field":"j","type":"quantitative","scale":{"domain":[-0.5,0.5]}},"y":{"field":"v","type":"quantitative"}}}]}]}
 ]}
]
}
